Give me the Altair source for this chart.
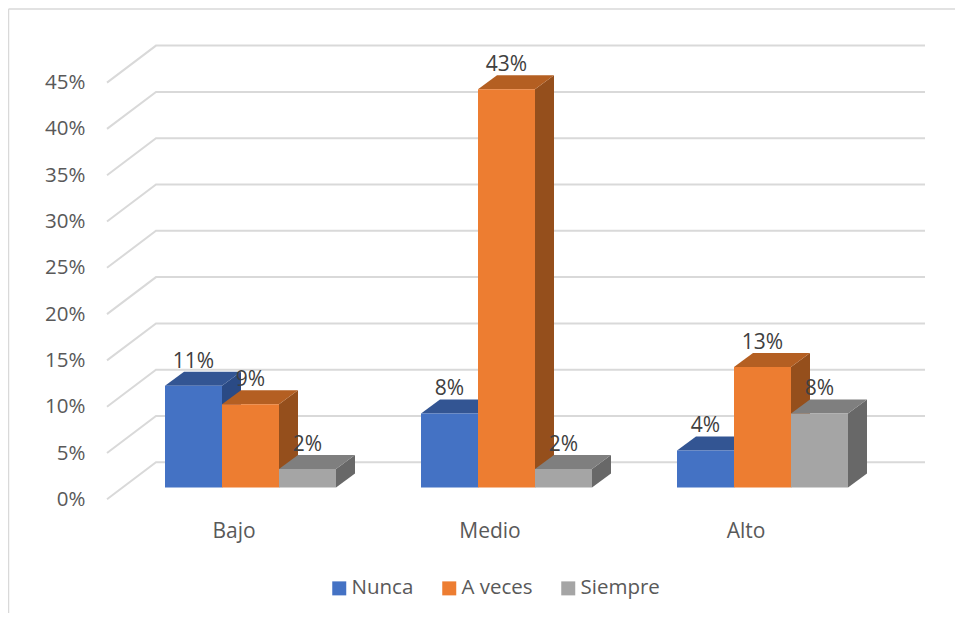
import altair as alt
import pandas as pd

categories = ["Bajo", "Medio", "Alto"]
series = ["Nunca", "A veces", "Siempre"]
nunca = [11, 8, 4]
a_veces = [9, 43, 13]
siempre = [2, 2, 8]
levels = [0, 5, 10, 15, 20, 25, 30, 35, 40, 45]

front_colors = ["#4472C4", "#ED7D31", "#A5A5A5"]
top_colors = ["#335593", "#B45F22", "#7F7F7F"]
side_colors = ["#2A4A85", "#954F1C", "#686868"]

FONT = "Open Sans"
W, H = 947, 605
PX_PER_CAT = 256.0
PX_PER_PCT = 9.26
ZERO_X = 242.5      # plot px of first category centre
ZERO_Y = 479.5      # plot px of 0%
BAR_W = 57 / PX_PER_CAT
DX = 19 / PX_PER_CAT
DY = 14 / PX_PER_PCT
WALL_L = -94.5 / PX_PER_CAT
WALL_R = 674.5 / PX_PER_CAT
WALL_F = -143.5 / PX_PER_CAT
WALL_UP = 25.2 / PX_PER_PCT
WALL_DOWN_PX = 11.8
WALL_DOWN = WALL_DOWN_PX / PX_PER_PCT

x_scale = alt.Scale(domain=[-ZERO_X / PX_PER_CAT, (W - ZERO_X) / PX_PER_CAT], nice=False, zero=False)
y_scale = alt.Scale(domain=[-(H - ZERO_Y) / PX_PER_PCT, ZERO_Y / PX_PER_PCT], nice=False, zero=False)

x_axis = alt.Axis(values=[0, 1, 2], title=None, grid=False, domain=False, ticks=False,
                  labelExpr="['Bajo','Medio','Alto'][datum.value]",
                  labelFont=FONT, labelFontSize=21, labelColor="#595959",
                  labelOffset=-17, labelPadding=0, offset=-93, labelBaseline="top")
y_axis = alt.Axis(values=levels, title=None, grid=False, domain=False, ticks=False,
                  labelExpr="datum.value + '%'",
                  labelFont=FONT, labelFontSize=20.5, labelColor="#595959",
                  labelOffset=WALL_DOWN_PX, labelPadding=0, offset=-77)


def X(field):
    return alt.X(field, scale=x_scale, axis=x_axis, title=None)


def Y(field):
    return alt.Y(field, scale=y_scale, axis=y_axis, title=None)


table = {"Nunca": nunca, "A veces": a_veces, "Siempre": siempre}
bars = []
for si, s in enumerate(series):
    for ci, c in enumerate(categories):
        left = ci + (si - 1.5) * BAR_W
        bars.append(dict(serie=s, si=si, categoria=c, left=left, right=left + BAR_W,
                         mid=left + BAR_W / 2, v=table[s][ci], zero=0,
                         label=f"{table[s][ci]}%"))

grid_rows = []
for lv in levels:
    grid_rows += [
        dict(level=lv, step=0, gx=WALL_F, gy=lv - WALL_DOWN),
        dict(level=lv, step=1, gx=WALL_L, gy=lv + WALL_UP),
        dict(level=lv, step=2, gx=WALL_R, gy=lv + WALL_UP),
    ]
grid = (
    alt.Chart(pd.DataFrame(grid_rows))
    .mark_line(color="#D9D9D9", strokeWidth=2)
    .encode(x=X("gx:Q"), y=Y("gy:Q"), detail="level:N", order="step:Q")
)

frame_data = alt.Data(values=[{"a": 0}])
frame_left = alt.Chart(frame_data).mark_rule(color="#D9D9D9", strokeWidth=1.5).encode(
    x=alt.value(0.5), y=alt.value(1), y2=alt.value(H))
frame_top = alt.Chart(frame_data).mark_rule(color="#D9D9D9", strokeWidth=1.5).encode(
    x=alt.value(0.5), x2=alt.value(W), y=alt.value(1))

layers = [frame_left, frame_top, grid]
for si, s in enumerate(series):
    sb = [b for b in bars if b["serie"] == s]
    side_rows, top_rows = [], []
    for r in sb:
        side_rows += [
            dict(categoria=r["categoria"], sx=r["right"], y0=0, y1=r["v"]),
            dict(categoria=r["categoria"], sx=r["right"] + DX, y0=DY, y1=r["v"] + DY),
        ]
        top_rows += [
            dict(categoria=r["categoria"], ty=r["v"], x0=r["left"], x1=r["right"]),
            dict(categoria=r["categoria"], ty=r["v"] + DY, x0=r["left"] + DX, x1=r["right"] + DX),
        ]
    side = (
        alt.Chart(pd.DataFrame(side_rows))
        .mark_area(color=side_colors[si], opacity=1)
        .encode(x=X("sx:Q"), y=Y("y0:Q"), y2="y1:Q", detail="categoria:N")
    )
    top = (
        alt.Chart(pd.DataFrame(top_rows))
        .mark_area(color=top_colors[si], opacity=1, orient="horizontal")
        .encode(y=Y("ty:Q"), x=X("x0:Q"), x2="x1:Q", detail="categoria:N")
    )
    layers += [side, top]

bars_df = pd.DataFrame(bars)
front = (
    alt.Chart(bars_df)
    .mark_rect(opacity=1)
    .encode(
        x=X("left:Q"),
        x2="right:Q",
        y=Y("zero:Q"),
        y2="v:Q",
        color=alt.Color(
            "serie:N",
            scale=alt.Scale(domain=series, range=front_colors),
            legend=alt.Legend(
                title=None, orient="none", legendX=321, legendY=570, direction="horizontal",
                columns=3, columnPadding=25, symbolType="square", symbolSize=196,
                symbolStrokeWidth=0, symbolOpacity=1, labelFont=FONT, labelFontSize=20.5,
                labelColor="#595959", labelOffset=2,
            ),
        ),
    )
)
labels = (
    alt.Chart(bars_df)
    .mark_text(font=FONT, fontSize=21, color="#404040", dy=-24, baseline="middle", align="center")
    .encode(x=X("mid:Q"), y=Y("v:Q"), text="label:N")
)
layers += [front, labels]

chart = (
    alt.layer(*layers)
    .properties(width=W, height=H, padding=0, autosize="none", background="white")
    .configure_view(stroke=None)
)
chart.save("out.html", embed_options={"renderer": "svg", "actions": False})
